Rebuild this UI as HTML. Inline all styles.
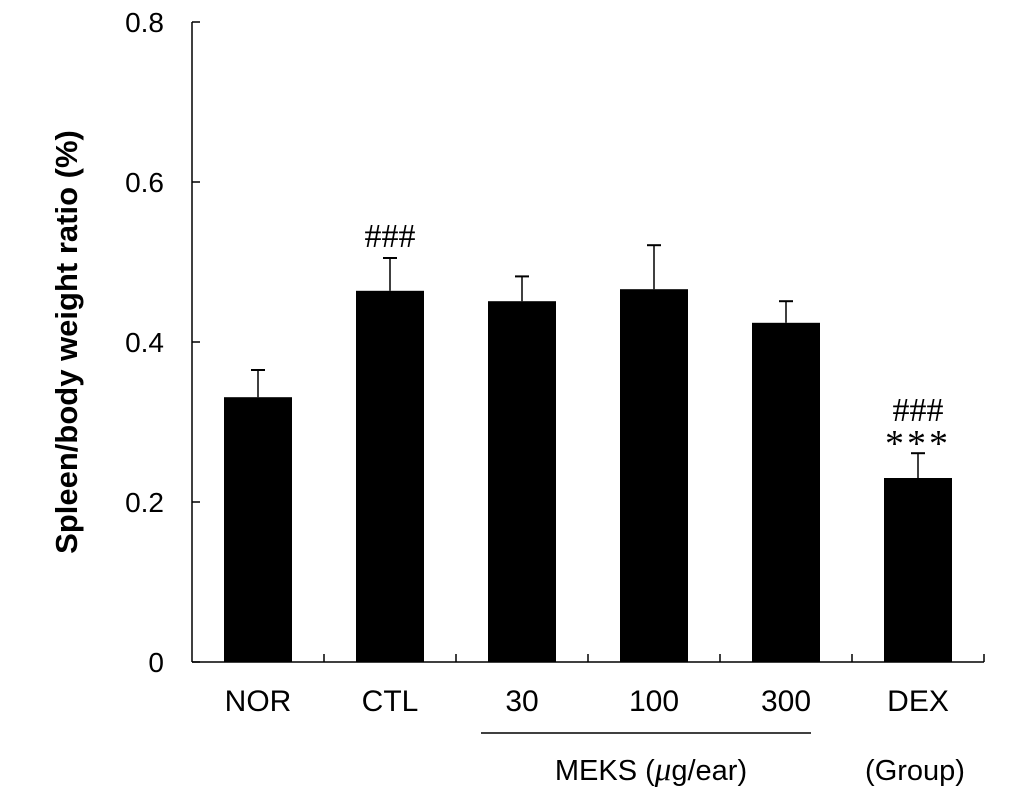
<!DOCTYPE html>
<html><head><meta charset="utf-8"><style>
html,body{margin:0;padding:0;background:#fff;}
svg{display:block;}
</style></head><body>
<svg id="chart" width="1033" height="795" xmlns="http://www.w3.org/2000/svg">
<g id="axes"></g><g id="bars"></g><g id="labels"></g>
<text transform="translate(77,342) rotate(-90)" text-anchor="middle" font-family="Liberation Sans, sans-serif" font-weight="bold" font-size="31">Spleen/body weight ratio (%)</text>
<line x1="481" y1="733" x2="811" y2="733" stroke="#000" stroke-width="1.5"/>
<text x="651" y="780" text-anchor="middle" font-family="Liberation Sans, sans-serif" font-size="29">MEKS (<tspan font-family="Liberation Serif, serif" font-style="italic" font-size="33">μ</tspan>g/ear)</text>
<text x="915" y="780" text-anchor="middle" font-family="Liberation Sans, sans-serif" font-size="29">(Group)</text>
</svg>
<script>
const categories=["NOR","CTL","30","100","300","DEX"];
const values=[0.331,0.464,0.451,0.466,0.424,0.230];
const errors=[0.034,0.041,0.031,0.055,0.027,0.031];
const yTicks=[0,0.2,0.4,0.6,0.8];
const yTickLabels=["0","0.2","0.4","0.6","0.8"];
const hashMarks=["","###","","","","###"];
const starMarks=["","","","","","***"];
const NS="http://www.w3.org/2000/svg";
const y0=662,pxPerUnit=800,axisX=192,x0=258,step=132,bw=68;
const yS=v=>y0-v*pxPerUnit, xS=i=>x0+i*step;
function mk(tag,at,parent,text){const e=document.createElementNS(NS,tag);for(const k in at)e.setAttribute(k,at[k]);if(text!==undefined)e.textContent=text;document.getElementById(parent).appendChild(e);return e;}
let e=mk('line',{x1:axisX,y1:yS(0.8),x2:axisX,y2:y0,stroke:'#000','stroke-width':1.5},'axes');


const xEnd=x0+(categories.length-0.5)*step;
e=mk('line',{x1:axisX,y1:y0,x2:xEnd,y2:y0,stroke:'#000','stroke-width':1.5},'axes');


yTicks.forEach((t,i)=>{
 let l=mk('line',{x1:axisX,y1:yS(t),x2:axisX+8,y2:yS(t),stroke:'#000','stroke-width':1.5},'axes');
 
 
 let tx=mk('text',{x:axisX-28,y:yS(t)+10,'text-anchor':'end','font-family':'Liberation Sans, sans-serif','font-size':28},'labels',yTickLabels[i]);
 
 
});
categories.forEach((c,i)=>{
 let l=mk('line',{x1:xS(i)+step/2,y1:y0,x2:xS(i)+step/2,y2:y0-8,stroke:'#000','stroke-width':1.5},'axes');
 
 
 const top=yS(values[i]), et=yS(values[i]+errors[i]);
 let el=mk('line',{x1:xS(i),y1:top,x2:xS(i),y2:et,stroke:'#000','stroke-width':1.5},'bars');
 
 
 el=mk('line',{x1:xS(i)-7,y1:et,x2:xS(i)+7,y2:et,stroke:'#000','stroke-width':2},'bars');
 
 
 let r=mk('rect',{x:xS(i)-bw/2,y:top,width:bw,height:y0-top,fill:'#000'},'bars');
 
 
 let t=mk('text',{x:xS(i),y:711,'text-anchor':'middle','font-family':'Liberation Sans, sans-serif','font-size':30},'labels',c);
 
 
 const hasStar=starMarks[i]!=="";
 if(hasStar){
  let s=mk('text',{x:xS(i),y:et+3,'text-anchor':'middle','font-family':'Liberation Serif, serif','font-size':38,'letter-spacing':3},'labels',starMarks[i]);
  
  
 }
 if(hashMarks[i]!==""){
  let s=mk('text',{x:xS(i),y:et-(hasStar?32:11),'text-anchor':'middle','font-family':'Liberation Serif, serif','font-size':34},'labels',hashMarks[i]);
  
  
 }
});
</script>
</body></html>
